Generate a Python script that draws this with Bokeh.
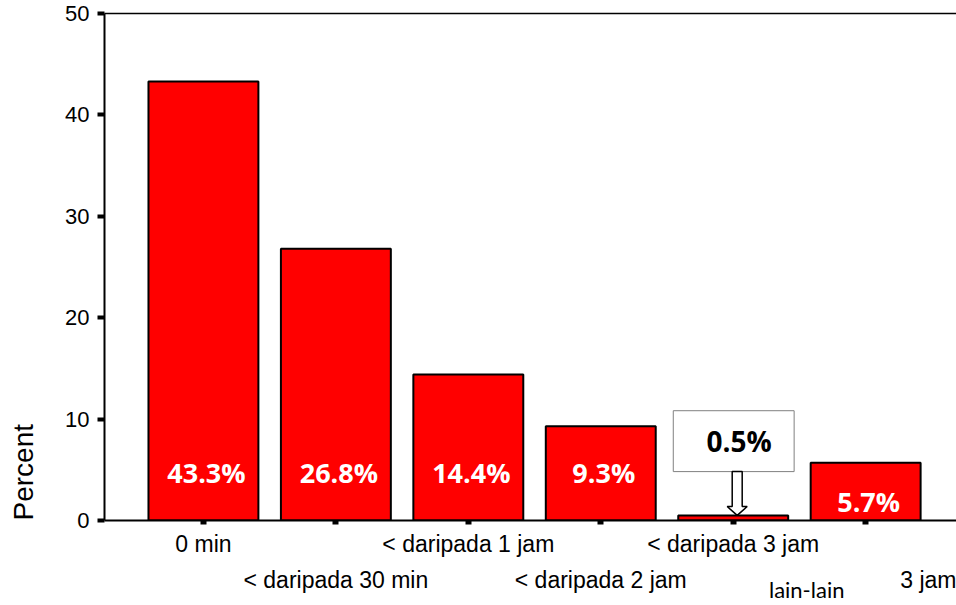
from bokeh.plotting import figure
from bokeh.models import (ColumnDataSource, LinearAxis, FixedTicker, Range1d, Title)
from bokeh.core.properties import value
from bokeh.embed import file_html
from bokeh.resources import INLINE

# ---- data ----
categories = ["0 min", "< daripada 30 min", "< daripada 1 jam",
              "< daripada 2 jam", "< daripada 3 jam", "lain-lain"]
percent = [43.3, 26.8, 14.4, 9.3, 0.5, 5.7]
value_labels = ["43.3%", "26.8%", "14.4%", "9.3%", "0.5%", "5.7%"]
y_ticks = [0, 10, 20, 30, 40, 50]
cut_label = "3 jam"

# ---- geometry helpers (pixels -> data) ----
W, H = 956, 605
BL, BR, BT, BB = 103, 0, 13, 84
frame_w = W - BL - BR
frame_h = H - BT - BB
x0, x1 = -0.747, 5.686
y0, y1 = 0, 50
ppx = frame_w / (x1 - x0)
ppy = frame_h / (y1 - y0)


def dx(px):
    return px / ppx


def dy(px):
    return px / ppy


p = figure(width=W, height=H, output_backend="svg", toolbar_location=None,
           x_range=Range1d(x0, x1), y_range=Range1d(y0, y1),
           min_border_left=BL, min_border_right=BR, min_border_top=BT,
           min_border_bottom=BB, background_fill_color="white",
           border_fill_color="white", outline_line_color=None)
p.grid.visible = False

xs = list(range(len(categories)))
src = ColumnDataSource(dict(x=xs, top=percent, cat=categories))
p.vbar(x="x", top="top", bottom=0, width=0.83, source=src,
       fill_color="#ff0000", line_color="black", line_width=2)

# white value labels inside bars (all but the tiny one)
in_x, in_y, in_t = [], [], []
for i, (v, t) in enumerate(zip(percent, value_labels)):
    if v < 1:
        continue
    in_x.append(i + dx(3))
    in_y.append(4.7 if v > 8 else v / 3)
    in_t.append(t)
lsrc = ColumnDataSource(dict(x=in_x, y=in_y, t=in_t))
p.text(x="x", y="y", text="t", source=lsrc, text_color="white",
       text_font=value("Open Sans"), text_font_style="bold",
       text_font_size="27px", text_align="center", text_baseline="middle")

# callout for the small bar
ci = min(range(len(percent)), key=lambda k: percent[k])
cv = percent[ci]
bx_b, bx_t = dy(49), dy(110)
p.quad(left=[ci - dx(60)], right=[ci + dx(61)], bottom=[bx_b], top=[bx_t],
       fill_color="white", line_color="#808080", line_width=1)
p.text(x=[ci + dx(6)], y=[(bx_b + bx_t) / 2], text=[value_labels[ci]],
       text_color="black", text_font=value("Open Sans"), text_font_style="bold",
       text_font_size="28px", text_align="center", text_baseline="middle")
ax = ci + dx(4)
sw, hw = dx(5), dx(10)
hy = dy(14)
p.patch(x=[ax - sw, ax + sw, ax + sw, ax + hw, ax, ax - hw, ax - sw],
        y=[bx_b, bx_b, hy, hy, cv, hy, hy],
        fill_color="white", line_color="black", line_width=1.5)

# ---- y axis ----
yax = p.yaxis[0]
yax.ticker = FixedTicker(ticks=y_ticks)
yax.axis_line_width = 2
yax.major_tick_out = 7
yax.major_tick_in = 0
yax.major_tick_line_width = 4
yax.minor_tick_line_color = None
yax.major_label_standoff = 8
yax.major_label_text_font = "Liberation Sans"
yax.major_label_text_font_size = "22px"
yax.major_label_text_color = "black"
# blank axis label only widens the axis panel so the title sits further left
yax.axis_label = " "
yax.axis_label_text_font_size = "14px"
yax.axis_label_standoff = 0

ytitle = Title(text="Percent", align="left", text_font="Liberation Sans",
               text_font_size="28px", text_font_style="normal",
               text_color="black", standoff=10)
p.add_layout(ytitle, "left")

# ---- x axes: row 1 (with ticks), row 2, extra label ----
xax = p.xaxis[0]
xax.ticker = FixedTicker(ticks=xs)
xax.axis_line_width = 2
xax.major_tick_out = 4
xax.major_tick_in = 0
xax.major_tick_line_width = 6
xax.minor_tick_line_color = None
xax.major_label_standoff = 6
xax.major_label_text_font = "Liberation Sans"
xax.major_label_text_font_size = "23px"
xax.major_label_text_color = "black"
xax.major_label_overrides = {i: (c if i % 2 == 0 else "")
                             for i, c in enumerate(categories[:5])} | {5: ""}

row2_ticks = [1, 3, 5 + dx(63)]
row2_text = [categories[1], categories[3], cut_label]
ax2 = LinearAxis(ticker=FixedTicker(ticks=row2_ticks),
                 axis_line_color=None, major_tick_line_color=None,
                 minor_tick_line_color=None, major_tick_out=0, major_tick_in=0,
                 major_label_standoff=7,
                 major_label_text_font="Liberation Sans",
                 major_label_text_font_size="23px",
                 major_label_text_color="black",
                 major_label_overrides={t: s for t, s in zip(row2_ticks, row2_text)})
p.add_layout(ax2, "below")

row3_ticks = [5 - dx(59)]
ax3 = LinearAxis(ticker=FixedTicker(ticks=row3_ticks),
                 axis_line_color=None, major_tick_line_color=None,
                 minor_tick_line_color=None, major_tick_out=0, major_tick_in=0,
                 major_label_standoff=-20,
                 major_label_text_font="Lato",
                 major_label_text_font_size="22px",
                 major_label_text_color="black",
                 major_label_overrides={row3_ticks[0]: categories[5]})
p.add_layout(ax3, "below")

top_ax = LinearAxis(ticker=FixedTicker(ticks=[]), axis_line_width=1.5,
                    major_tick_out=0, major_tick_in=0,
                    minor_tick_line_color=None, major_label_standoff=0)
p.add_layout(top_ax, "above")

open("out.html", "w").write(file_html(p, INLINE))
